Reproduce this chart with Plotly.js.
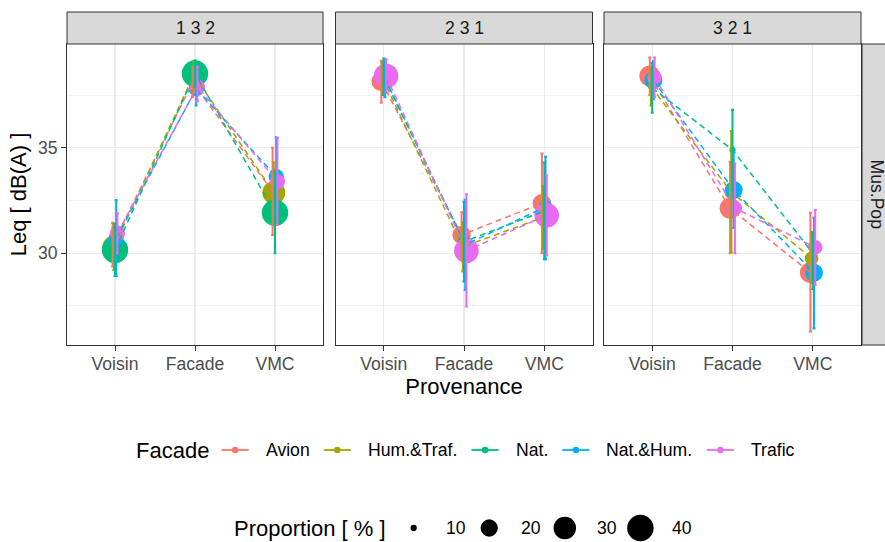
<!DOCTYPE html>
<html><head><meta charset="utf-8">
<script src="https://cdn.plot.ly/plotly-3.0.1.min.js"></script>
<style>html,body{margin:0;padding:0;background:#fff}#chart{width:885px;height:542px}</style>
</head><body><div id="chart"></div>
<script>
// ---------- data ----------
const panels = ['1 3 2', '2 3 1', '3 2 1'];
const rowStrip = 'Mus.Pop';
const provenance = ['Voisin', 'Facade', 'VMC'];
const facades = ['Avion', 'Hum.&Traf.', 'Nat.', 'Nat.&Hum.', 'Trafic'];
const yTicks = [30, 35];
const yMinorTicks = [27.5, 32.5, 37.5];
const sizeBreaks = [10, 20, 30, 40];

// mean Leq per panel: [Voisin, Facade, VMC]
const avionLeq = [[30.40, 38.10, 32.93], [38.15, 30.87, 32.37], [38.40, 32.13, 29.08]];
const avionLow = [[29.37, 37.41, 30.86], [37.13, 29.80, 30.00], [37.50, 30.00, 26.29]];
const avionHigh = [[31.45, 38.84, 35.00], [39.12, 31.94, 34.73], [39.28, 34.34, 31.92]];
const avionProp = [[11, 11, 11], [24, 22, 22], [27, 27, 27]];

const humTrafLeq = [[30.30, 38.45, 32.87], [38.30, 30.30, 31.70], [37.90, 32.90, 29.76]];
const humTrafLow = [[29.20, 37.70, 31.40], [37.50, 29.13, 30.20], [37.00, 30.03, 28.60]];
const humTrafHigh = [[31.40, 39.10, 34.30], [39.10, 31.47, 33.20], [38.80, 35.80, 31.00]];
const humTrafProp = [[30, 30, 31], [14, 14, 14], [10, 15, 15]];

const natLeq = [[30.16, 38.52, 31.92], [38.35, 30.55, 32.00], [37.84, 34.90, 30.00]];
const natLow = [[28.92, 37.89, 30.00], [37.50, 28.66, 29.72], [36.66, 33.00, 28.30]];
const natHigh = [[31.40, 39.15, 33.84], [39.23, 32.44, 34.30], [39.02, 36.80, 31.00]];
const natProp = [[40, 40, 40], [14, 14, 14], [10, 10, 10]];

const natHumLeq = [[30.72, 37.80, 33.63], [38.30, 30.40, 32.20], [38.20, 33.00, 29.08]];
const natHumLow = [[28.92, 37.00, 31.76], [37.40, 28.26, 29.72], [37.30, 31.20, 26.43]];
const natHumHigh = [[32.52, 38.60, 35.50], [39.20, 32.54, 34.57], [39.10, 34.80, 31.70]];
const natHumProp = [[17, 17, 17], [15, 15, 15], [21, 21, 21]];

const traficLeq = [[30.95, 37.89, 33.40], [38.40, 30.12, 31.80], [38.33, 32.13, 30.28]];
const traficLow = [[30.00, 37.20, 31.34], [37.60, 27.47, 29.90], [37.40, 30.00, 28.50]];
const traficHigh = [[31.90, 38.84, 35.46], [39.20, 32.80, 33.70], [39.28, 34.26, 32.05]];
const traficProp = [[17, 17, 17], [35, 35, 35], [16, 16, 16]];

const leq = [avionLeq, humTrafLeq, natLeq, natHumLeq, traficLeq];
const low = [avionLow, humTrafLow, natLow, natHumLow, traficLow];
const high = [avionHigh, humTrafHigh, natHigh, natHumHigh, traficHigh];
const prop = [avionProp, humTrafProp, natProp, natHumProp, traficProp];

// ---------- style ----------
const colors = ['#F8766D', '#A3A500', '#00BF7D', '#00B0F6', '#E76BF3'];
const FONT = '"Liberation Sans", Arial, sans-serif';
const W = 885, H = 542;
const M = {l: 67, r: 24, t: 44, b: 197};
const PW = W - M.l - M.r, PH = H - M.t - M.b;
const px2x = px => (px - M.l) / PW;
const py2y = py => (H - M.b - py) / PH;
const domains = [[0, 256 / PW], [268.5 / PW, 525.5 / PW], [537 / PW, 1]];
const diam = v => 4.5 + 4 * Math.sqrt(Math.max(v - 9.8, 0));
const dodge = i => (i - 2) * 0.015;

const traces = [];
const axSuffix = p => (p === 0 ? '' : String(p + 1));
// points
for (let p = 0; p < 3; p++) for (let i = 0; i < 5; i++) {
  traces.push({type: 'scatter', mode: 'markers', xaxis: 'x' + axSuffix(p), yaxis: 'y' + axSuffix(p),
    x: provenance.map((_, k) => k + dodge(i)), y: leq[i][p],
    marker: {color: colors[i], size: prop[i][p].map(diam), line: {width: 0}, opacity: 1},
    showlegend: false, hoverinfo: 'skip', name: facades[i]});
}
// dashed lines
for (let p = 0; p < 3; p++) for (let i = 0; i < 5; i++) {
  traces.push({type: 'scatter', mode: 'lines', xaxis: 'x' + axSuffix(p), yaxis: 'y' + axSuffix(p),
    x: provenance.map((_, k) => k + dodge(i)), y: leq[i][p],
    line: {color: colors[i], width: 1.5, dash: '6px,4px'},
    showlegend: false, hoverinfo: 'skip', name: facades[i]});
}
// error bars
for (let p = 0; p < 3; p++) for (let i = 0; i < 5; i++) {
  traces.push({type: 'scatter', mode: 'markers', xaxis: 'x' + axSuffix(p), yaxis: 'y' + axSuffix(p),
    x: provenance.map((_, k) => k + dodge(i)), y: leq[i][p],
    marker: {size: 1, opacity: 0},
    error_y: {type: 'data', symmetric: false,
      array: leq[i][p].map((m, k) => high[i][p][k] - m),
      arrayminus: leq[i][p].map((m, k) => m - low[i][p][k]),
      color: colors[i], thickness: 2, width: 1.5},
    showlegend: false, hoverinfo: 'skip', name: facades[i]});
}

// ---------- axes ----------
const layout = {
  width: W, height: H, margin: M, paper_bgcolor: '#fff', plot_bgcolor: '#fff',
  font: {family: FONT, color: '#000'}, showlegend: false,
  shapes: [], annotations: []
};
for (let p = 0; p < 3; p++) {
  const s = axSuffix(p);
  layout['xaxis' + s] = {
    domain: domains[p], anchor: 'y' + s, range: [-0.6, 2.6],
    tickmode: 'array', tickvals: [0, 1, 2], ticktext: provenance,
    showgrid: true, gridcolor: '#EBEBEB', gridwidth: 1.1, zeroline: false,
    showline: true, mirror: true, linecolor: '#333333', linewidth: 1,
    ticks: 'outside', ticklen: 5, tickcolor: '#333333', tickwidth: 1, ticklabelstandoff: -2,
    tickfont: {size: 17.6, color: '#4D4D4D', family: FONT}, fixedrange: true
  };
  layout['yaxis' + s] = {
    domain: [0, 1], anchor: 'x' + s, range: [25.65, 39.92],
    tickmode: 'array', tickvals: yTicks,
    minor: {tickvals: yMinorTicks, showgrid: true, gridcolor: '#EBEBEB', gridwidth: 0.6, ticks: ''},
    showgrid: true, gridcolor: '#EBEBEB', gridwidth: 1.1, zeroline: false,
    showline: true, mirror: true, linecolor: '#333333', linewidth: 1,
    ticks: p === 0 ? 'outside' : '', ticklen: 5, tickcolor: '#333333', tickwidth: 1,
    showticklabels: p === 0,
    tickfont: {size: 17.6, color: '#4D4D4D', family: FONT}, fixedrange: true
  };
  if (p > 0) layout['yaxis' + s].matches = 'y';
  // strip
  layout.shapes.push({type: 'rect', xref: 'paper', yref: 'paper', x0: domains[p][0], x1: domains[p][1],
    y0: 1, y1: 1 + 32 / PH, fillcolor: '#D9D9D9', line: {color: '#333333', width: 1}, layer: 'above'});
  layout.annotations.push({xref: 'paper', yref: 'paper', x: (domains[p][0] + domains[p][1]) / 2,
    y: 1 + 16 / PH, xanchor: 'center', yanchor: 'middle', showarrow: false, text: panels[p],
    font: {size: 17.6, color: '#1A1A1A', family: FONT}});
}
layout.xaxis2.title = {text: 'Provenance', font: {size: 22, color: '#000', family: FONT}, standoff: 4};
layout.yaxis.title = {text: 'Leq [ dB(A) ]', font: {size: 22, color: '#000', family: FONT}, standoff: 5};

// right strip
layout.shapes.push({type: 'rect', xref: 'paper', yref: 'paper', x0: 1 + 1 / PW, x1: 1 + 40 / PW,
  y0: 0, y1: 1, fillcolor: '#D9D9D9', line: {color: '#333333', width: 1}, layer: 'above'});
layout.annotations.push({xref: 'paper', yref: 'paper', x: 1 + 16 / PW, y: 0.5, xanchor: 'center', yanchor: 'middle',
  textangle: 90, showarrow: false, text: rowStrip, font: {size: 17.6, color: '#1A1A1A', family: FONT}});

// ---------- legends (drawn) ----------
const cv = document.createElement('canvas').getContext('2d');
const tw = (t, size) => { cv.font = size + 'px "Liberation Sans"'; return cv.measureText(t).width; };
const TITLE = 22, LBL = 17.6;
function addText(px, py, text, size) {
  layout.annotations.push({xref: 'paper', yref: 'paper', x: px2x(px), y: py2y(py), xanchor: 'left', yanchor: 'middle',
    showarrow: false, text: text, borderpad: 0, font: {size: size, color: '#000', family: FONT}});
}
function addDot(px, py, d, color) {
  layout.shapes.push({type: 'circle', xref: 'paper', yref: 'paper', xsizemode: 'pixel', ysizemode: 'pixel',
    xanchor: px2x(px), yanchor: py2y(py), x0: -d / 2, x1: d / 2, y0: -d / 2, y1: d / 2,
    fillcolor: color, line: {width: 0}, layer: 'above'});
}
// colour legend
{
  const cy = 450, keyW = 34, lblGap = 12.5, itemGap = 12, titleGap = 10;
  let total = tw('Facade', TITLE) + titleGap;
  facades.forEach((f, i) => { total += keyW + lblGap + tw(f, LBL) + (i < 4 ? itemGap : 0); });
  let x = 464 - total / 2;
  addText(x, cy, 'Facade', TITLE);
  x += tw('Facade', TITLE) + titleGap;
  facades.forEach((f, i) => {
    layout.shapes.push({type: 'line', xref: 'paper', yref: 'paper', x0: px2x(x + 3.4), x1: px2x(x + keyW - 3.4),
      y0: py2y(cy), y1: py2y(cy), line: {color: colors[i], width: 1.8}, layer: 'above'});
    addDot(x + keyW / 2, cy, 6.5, colors[i]);
    addText(x + keyW + lblGap, cy, f, LBL);
    x += keyW + lblGap + tw(f, LBL) + itemGap;
  });
}
// size legend
{
  const cy = 528, keyW = 30, lblGap = 16, itemGap = 10, titleGap = 14;
  const title = 'Proportion [ % ]';
  let total = tw(title, TITLE) + titleGap;
  sizeBreaks.forEach((b, i) => { total += keyW + lblGap + tw(String(b), LBL) + (i < 3 ? itemGap : 0); });
  let x = 462 - total / 2;
  addText(x, cy, title, TITLE);
  x += tw(title, TITLE) + titleGap;
  sizeBreaks.forEach(b => {
    addDot(x + keyW / 2, cy, diam(b), '#000');
    addText(x + keyW + lblGap, cy, String(b), LBL);
    x += keyW + lblGap + tw(String(b), LBL) + itemGap;
  });
}

Plotly.newPlot('chart', traces, layout, {displayModeBar: false, staticPlot: true});
</script>
</body></html>
